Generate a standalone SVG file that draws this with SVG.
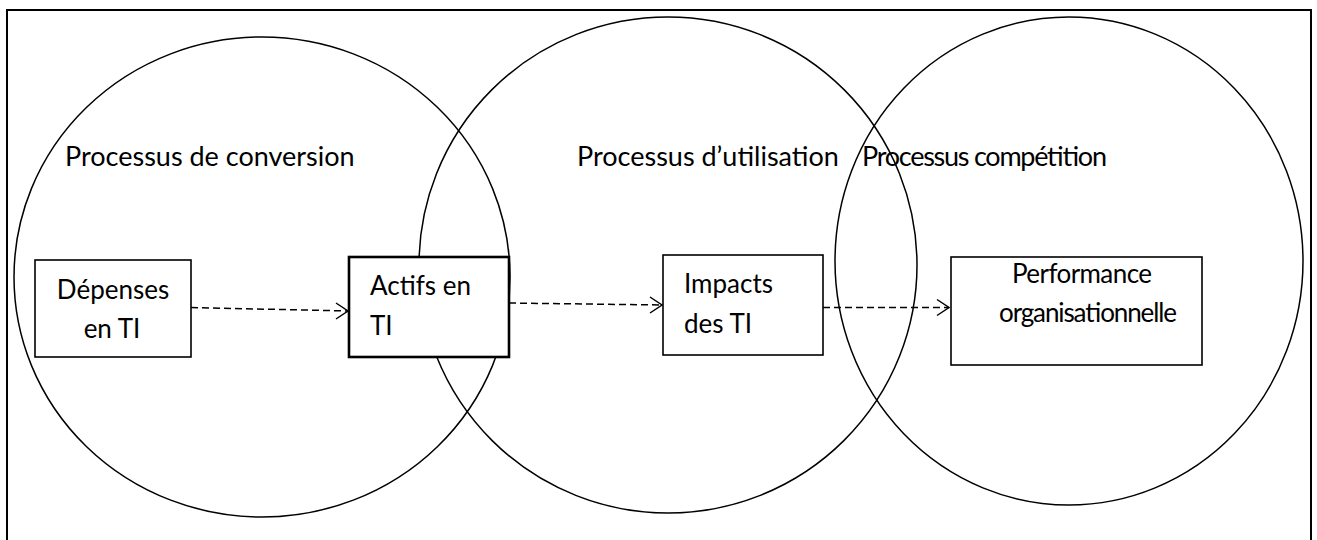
<svg xmlns="http://www.w3.org/2000/svg" width="1317" height="540" viewBox="0 0 1317 540">
  <style>
    .frame { fill: none; stroke: #000; stroke-width: 2; }
    .zone { fill: none; stroke: #000; stroke-width: 1.5; }
    .box { fill: #fff; stroke: #000; stroke-width: 1.6; }
    .box-strong { fill: #fff; stroke: #000; stroke-width: 2.6; }
    .flow { fill: none; stroke: #000; stroke-width: 1.5; stroke-dasharray: 7 4; }
    .head { fill: none; stroke: #000; stroke-width: 1.5; }
    text { font-family: Lato, "Open Sans", sans-serif; font-size: 26px; fill: #000; }
    .zone-label { font-size: 27px; }
  </style>

  <!-- outer frame -->
  <rect class="frame" x="7" y="10" width="1304" height="540"/>

  <!-- process zones -->
  <g id="zone-conversion">
    <ellipse class="zone" cx="262" cy="277" rx="248" ry="240"/>
    <text class="zone-label" x="65" y="166">Processus de conversion</text>
  </g>
  <g id="zone-utilisation">
    <ellipse class="zone" cx="668" cy="265" rx="249" ry="248"/>
    <text class="zone-label" x="577" y="166">Processus d’utilisation</text>
  </g>
  <g id="zone-competition">
    <ellipse class="zone" cx="1069" cy="261" rx="234" ry="244"/>
    <text class="zone-label" x="862" y="166" textLength="245">Processus compétition</text>
  </g>

  <!-- node boxes, white-filled so they sit over the zone outlines -->
  <g id="node-depenses">
    <rect class="box" x="35" y="260" width="156" height="97"/>
    <text x="113" y="299" text-anchor="middle">Dépenses</text>
    <text x="112" y="338" text-anchor="middle">en TI</text>
  </g>
  <g id="node-actifs">
    <rect class="box-strong" x="349" y="257" width="160" height="100"/>
    <text x="370" y="295">Actifs en</text>
    <text x="370" y="335">TI</text>
  </g>
  <g id="node-impacts">
    <rect class="box" x="663" y="255" width="160" height="100"/>
    <text x="684" y="293">Impacts</text>
    <text x="684" y="333">des TI</text>
  </g>
  <g id="node-performance">
    <rect class="box" x="951" y="257" width="251" height="108"/>
    <text x="1082" y="283" text-anchor="middle" textLength="140">Performance</text>
    <text x="1088" y="322" text-anchor="middle" textLength="178">organisationnelle</text>
  </g>

  <!-- dashed flow connectors with open arrowheads -->
  <g id="connectors">
    <line class="flow" x1="191" y1="307.5" x2="348" y2="311"/>
    <polyline class="head" points="336,303 348,311 336,319"/>
    <line class="flow" x1="509" y1="303" x2="662" y2="305"/>
    <polyline class="head" points="650,297 662,305 650,313"/>
    <line class="flow" x1="823" y1="307.5" x2="949" y2="307.5"/>
    <polyline class="head" points="937,299.5 949,307.5 937,315.5"/>
  </g>
</svg>
